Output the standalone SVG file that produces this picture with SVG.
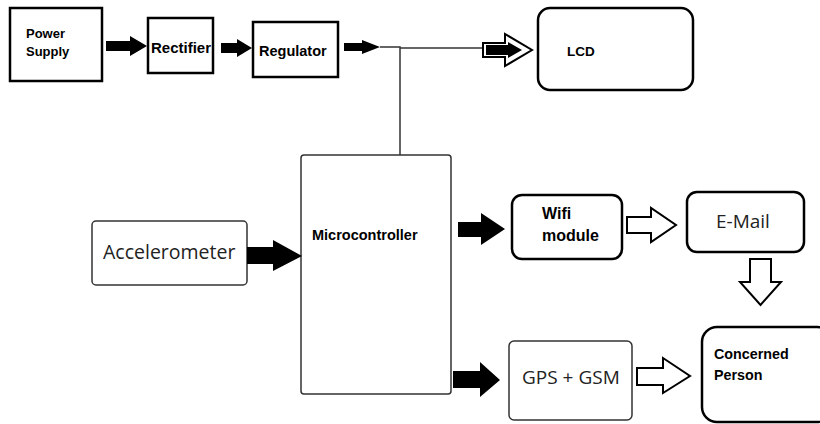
<svg xmlns="http://www.w3.org/2000/svg" width="820" height="424" viewBox="0 0 820 424">
<style>
.box{fill:#fff;stroke:#000;stroke-width:2.5}
.thin{fill:#fff;stroke:#333;stroke-width:1.5}
.b{font-family:"Liberation Sans",Arial,sans-serif;font-weight:bold;fill:#000}
.n{font-family:"Open Sans","Liberation Sans",sans-serif;fill:#222}
.solid{fill:#000}
.hollow{fill:#fff;stroke:#000;stroke-width:2}
.wire{fill:none;stroke:#333;stroke-width:1.5}
</style>
<rect width="820" height="424" fill="#fff"/>
<g id="power-supply"><rect class="box" x="10" y="8" width="92" height="73"/><text class="b" x="26" y="38" font-size="13">Power</text><text class="b" x="26" y="56" font-size="13">Supply</text></g>
<g id="rectifier"><rect class="box" x="148" y="18" width="65" height="55"/><text class="b" x="151" y="53" font-size="15">Rectifier</text></g>
<g id="regulator"><rect class="box" x="253" y="22" width="85" height="55"/><text class="b" x="259" y="56" font-size="14.5">Regulator</text></g>
<g id="lcd"><rect class="box" x="538" y="8" width="155" height="82" rx="12" stroke-width="3"/><text class="b" x="567" y="56" font-size="13.5">LCD</text></g>
<g id="microcontroller"><rect class="thin" x="301" y="155" width="150" height="239" rx="3"/><text class="b" x="312" y="240" font-size="14.5">Microcontroller</text></g>
<g id="accelerometer"><rect class="thin" x="92" y="221" width="155" height="64" rx="4"/><text class="n" x="103" y="259" font-size="19.5">Accelerometer</text></g>
<g id="wifi-module"><rect class="box" x="512" y="195" width="110" height="64" rx="10" stroke-width="3"/><text class="b" x="542" y="219" font-size="16">Wifi</text><text class="b" x="542" y="241" font-size="16">module</text></g>
<g id="email"><rect class="box" x="687" y="192" width="117" height="60" rx="10" stroke-width="3"/><text class="n" x="716" y="228" font-size="19">E-Mail</text></g>
<g id="gps-gsm"><rect class="thin" x="509" y="341" width="123" height="79" rx="5" stroke="#444"/><text class="n" x="522" y="384" font-size="19">GPS + GSM</text></g>
<g id="concerned-person"><rect class="box" x="702" y="327" width="130" height="95" rx="15" stroke-width="3"/><text class="b" x="714" y="359" font-size="14.3">Concerned</text><text class="b" x="714" y="380" font-size="14.3">Person</text></g>
<g id="connectors">
<polygon class="solid" points="106,41 130,41 130,36 147,46 130,56 130,51 106,51"/>
<polygon class="solid" points="221,43 237,43 237,39 252,48 237,57 237,53 221,53"/>
<polygon class="solid" points="344,43 362,43 362,40 380,47 362,54 362,51 344,51"/>
<polyline class="wire" points="380,47 400,47 400,155"/>
<line class="wire" x1="400" y1="48" x2="483" y2="48"/>
<polygon class="hollow" points="483,43 505,43 505,34 532,50 505,66 505,57 483,57"/>
<polygon class="solid" points="486,45 508,45 508,42 522,50 508,58 508,55 486,55"/>
<polygon class="solid" points="247,247 273,247 273,240 302,256 273,271 273,264 247,264"/>
<polygon class="solid" points="458,222 481,222 481,213 505,229 481,245 481,237 458,237"/>
<polygon class="hollow" points="627,217 651,217 651,208 676,225 651,242 651,233 627,233"/>
<polygon class="hollow" points="750,259 771,259 771,282 781,282 760.5,305 740,282 750,282"/>
<polygon class="solid" points="453,371 480,371 480,362 500,380 480,397 480,388 453,388"/>
<polygon class="hollow" points="637,368 663,368 663,358 690,376 663,393 663,385 637,385"/>
</g>
</svg>
